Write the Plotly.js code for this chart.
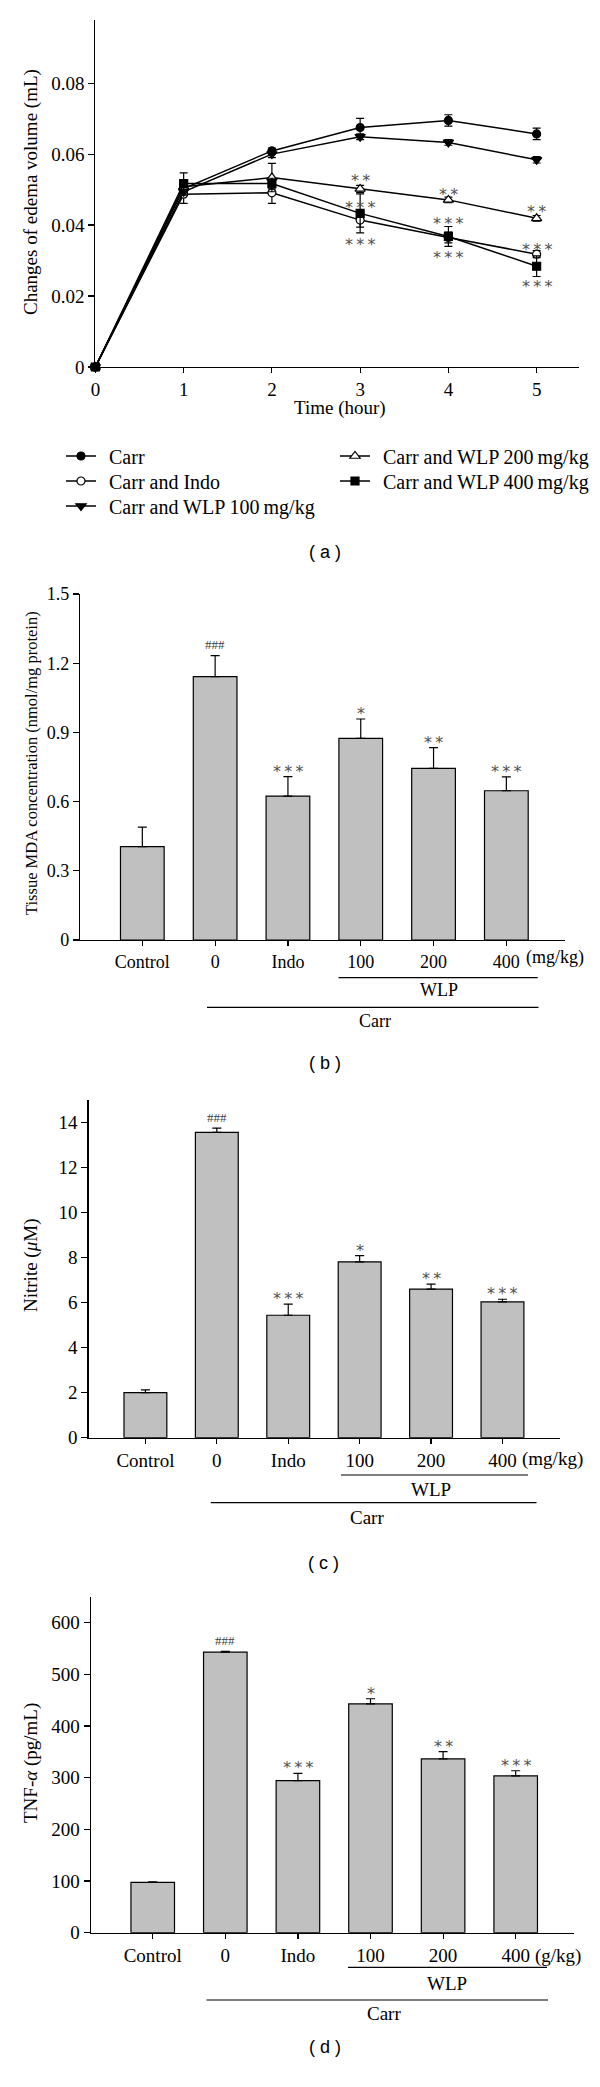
<!DOCTYPE html>
<html><head><meta charset="utf-8">
<script src="https://cdn.plot.ly/plotly-3.0.1.min.js"></script>
<style>body{margin:0;padding:0;background:#fff}#chart{width:600px;height:2087px}</style>
</head><body><div id="chart"></div>
<script>
// ---------- Panel (a): edema volume time course ----------
const hours = [0, 1, 2, 3, 4, 5];
const hourTicks = ['0', '1', '2', '3', '4', '5'];
const carr      = [0, 0.0503, 0.0609, 0.0675, 0.0695, 0.0657];
const carrErr   = [0, 0.0010, 0.0008, 0.0026, 0.0016, 0.0016];
const indo      = [0, 0.0487, 0.0491, 0.0414, 0.0365, 0.0318];
const indoErr   = [0, 0.0026, 0.0030, 0.0020, 0.0015, 0.0010];
const wlp100    = [0, 0.0494, 0.0600, 0.0649, 0.0633, 0.0584];
const wlp100Err = [0, 0.0010, 0.0010, 0.0008, 0.0008, 0.0009];
const wlp200    = [0, 0.0508, 0.0534, 0.0502, 0.0471, 0.0419];
const wlp200Err = [0, 0.0015, 0.0040, 0.0010, 0.0008, 0.0008];
const wlp400    = [0, 0.0517, 0.0517, 0.0433, 0.0368, 0.0284];
const wlp400Err = [0, 0.0030, 0.0015, 0.0055, 0.0028, 0.0029];
const edemaTicks = [0, 0.02, 0.04, 0.06, 0.08];
const edemaTickText = ['0', '0.02', '0.04', '0.06', '0.08'];
const seriesNames = ['Carr', 'Carr and Indo', 'Carr and WLP 100\u2009mg/kg', 'Carr and WLP 200\u2009mg/kg', 'Carr and WLP 400\u2009mg/kg'];

// significance marks in (a): [hour, text, series, pixel offset above point]
const edemaMarks = [
  [3, '*\u2009*', 'wlp200', 12], [3, '*\u2009*\u2009*', 'wlp400', 10], [3, '*\u2009*\u2009*', 'wlp400', -27],
  [4, '*\u2009*', 'wlp200', 9.5], [4, '*\u2009*\u2009*', 'wlp400', 16.5], [4, '*\u2009*\u2009*', 'wlp400', -17.5],
  [5, '*\u2009*', 'wlp200', 11], [5, '*\u2009*\u2009*', 'indo', 8.5], [5, '*\u2009*\u2009*', 'wlp400', -16.5]
];

// ---------- Bar panels ----------
const groups = ['Control', '0', 'Indo', '100', '200', '400'];
const barMarks = ['', '###', '*\u2009*\u2009*', '*', '*\u2009*', '*\u2009*\u2009*'];
const mda = [0.405, 1.142, 0.624, 0.874, 0.744, 0.647];
const mdaErr = [0.084, 0.091, 0.084, 0.084, 0.090, 0.060];
const mdaTicks = [0, 0.3, 0.6, 0.9, 1.2, 1.5];
const mdaTickText = ['0', '0.3', '0.6', '0.9', '1.2', '1.5'];
const nitrite = [2.0, 13.56, 5.44, 7.81, 6.60, 6.03];
const nitriteErr = [0.12, 0.19, 0.49, 0.28, 0.22, 0.12];
const nitriteTicks = [0, 2, 4, 6, 8, 10, 12, 14];
const tnf = [97.5, 542.7, 294.2, 442.6, 336.2, 303.3];
const tnfErr = [1, 1.5, 14, 10, 14, 10];
const tnfTicks = [0, 100, 200, 300, 400, 500, 600];

// ---------- helpers ----------
const W = 600, H = 2087;
const SERIF = 'Liberation Serif, Times New Roman, serif';
const SANS = 'Liberation Sans, Arial, sans-serif';
const STAR = 'DejaVu Sans, sans-serif';
const px = p => p / W;
const py = p => 1 - p / H;

const seriesData = {carr, indo, wlp100, wlp200, wlp400};

function lineTrace(y, err, name, symbol, fill, legendId) {
  return {
    type: 'scatter', mode: 'lines+markers', x: hours, y: y, name: '\u2009\u2009' + name,
    xaxis: 'x', yaxis: 'y', legend: legendId, cliponaxis: false,
    line: {color: '#000', width: 1.5},
    marker: {symbol: symbol, size: symbol.indexOf('triangle') >= 0 ? 9 : 8, color: fill, line: {color: '#000', width: 1.2}},
    error_y: {type: 'data', array: err, visible: true, color: '#000', thickness: 1.2, width: 4}
  };
}

function barTrace(vals, err, ax) {
  return {
    type: 'bar', x: groups, y: vals, xaxis: 'x' + ax, yaxis: 'y' + ax, width: 0.6,
    showlegend: false, cliponaxis: false,
    marker: {color: '#c0c0c0', line: {color: '#000', width: 1.2}},
    error_y: {type: 'data', symmetric: false, array: err, arrayminus: vals.map(() => 0),
              visible: true, color: '#000', thickness: 1.2, width: 4.5}
  };
}

const traces = [
  lineTrace(carr, carrErr, seriesNames[0], 'circle', '#000', 'legend'),
  lineTrace(indo, indoErr, seriesNames[1], 'circle', '#fff', 'legend2'),
  lineTrace(wlp100, wlp100Err, seriesNames[2], 'triangle-down', '#000', 'legend3'),
  lineTrace(wlp200, wlp200Err, seriesNames[3], 'triangle-up', '#fff', 'legend4'),
  lineTrace(wlp400, wlp400Err, seriesNames[4], 'square', '#000', 'legend5'),
  barTrace(mda, mdaErr, 2),
  barTrace(nitrite, nitriteErr, 3),
  barTrace(tnf, tnfErr, 4)
];

function axisBase(fontSize) {
  return {
    showline: true, linecolor: '#000', linewidth: 1.2, ticks: 'outside', ticklen: 6,
    tickwidth: 1.2, tickcolor: '#000', showgrid: false, zeroline: false, fixedrange: true,
    tickfont: {family: SERIF, size: fontSize, color: '#000'}
  };
}

function legendAt(xp, yp) {
  return {orientation: 'v', x: px(xp), y: py(yp), xanchor: 'left', yanchor: 'middle',
          itemwidth: 30, tracegroupgap: 0, bgcolor: 'rgba(0,0,0,0)', borderwidth: 0,
          font: {family: SERIF, size: 20, color: '#000'}};
}

// pixel boxes of the four plot areas: [left, right, top, bottom]
const boxA = [95.4, 579, 20, 367];
const boxB = [80, 564.6, 594, 940];
const boxC = [88.5, 559.6, 1100, 1437.7];
const boxD = [90.8, 574.2, 1596.7, 1932.7];

const layout = {
  width: W, height: H, margin: {l: 0, r: 0, t: 0, b: 0},
  paper_bgcolor: '#fff', plot_bgcolor: 'rgba(0,0,0,0)',
  font: {family: SERIF, color: '#000'},
  showlegend: true,
  legend: legendAt(61, 456),
  legend2: legendAt(61, 481),
  legend3: legendAt(61, 506),
  legend4: legendAt(335, 456),
  legend5: legendAt(335, 481),
  xaxis: Object.assign(axisBase(19), {domain: [px(boxA[0]), px(boxA[1])], anchor: 'y',
           range: [0, 5.48], tickvals: hours, ticktext: hourTicks, ticklen: 5}),
  yaxis: Object.assign(axisBase(19), {domain: [py(boxA[3]), py(boxA[2])], anchor: 'x',
           range: [0, 0.0978], tickvals: edemaTicks, ticktext: edemaTickText}),
  xaxis2: Object.assign(axisBase(18), {domain: [px(boxB[0]), px(boxB[1])], anchor: 'y2',
           type: 'category', categoryarray: groups, range: [-0.856, 5.80], ticklen: 5}),
  yaxis2: Object.assign(axisBase(18), {domain: [py(boxB[3]), py(boxB[2])], anchor: 'x2',
           range: [0, 1.5], tickvals: mdaTicks, ticktext: mdaTickText}),
  xaxis3: Object.assign(axisBase(19), {domain: [px(boxC[0]), px(boxC[1])], anchor: 'y3',
           type: 'category', categoryarray: groups, range: [-0.797, 5.80], ticklen: 5}),
  yaxis3: Object.assign(axisBase(19), {domain: [py(boxC[3]), py(boxC[2])], anchor: 'x3',
           range: [0, 15], tickvals: nitriteTicks}),
  xaxis4: Object.assign(axisBase(19), {domain: [px(boxD[0]), px(boxD[1])], anchor: 'y4',
           type: 'category', categoryarray: groups, range: [-0.853, 5.806], ticklen: 5}),
  yaxis4: Object.assign(axisBase(19), {domain: [py(boxD[3]), py(boxD[2])], anchor: 'x4',
           range: [0, 650], tickvals: tnfTicks}),
  annotations: [],
  shapes: []
};

const ann = layout.annotations;
function textAt(xp, yp, text, size, family, angle) {
  ann.push({xref: 'paper', yref: 'paper', x: px(xp), y: py(yp), text: text, showarrow: false,
            xanchor: 'center', yanchor: 'middle', textangle: angle || 0,
            font: {family: family || SERIF, size: size, color: '#000'}});
}

// axis titles
textAt(31, 192, 'Changes of edema volume (mL)', 19, SERIF, -90);
textAt(340, 408, 'Time (hour)', 19);
textAt(31, 763, 'Tissue MDA concentration (nmol/mg protein)', 16.5, SERIF, -90);
textAt(31, 1266, 'Nitrite (<i>\u03bc</i>M)', 19, SERIF, -90);
textAt(31, 1763, 'TNF-<i>\u03b1</i> (pg/mL)', 19, SERIF, -90);

// panel letters
textAt(325, 552, '( a )', 18, SANS);
textAt(325, 1063, '( b )', 18, SANS);
textAt(323, 1563, '( c )', 18, SANS);
textAt(325, 2047, '( d )', 18, SANS);

// unit labels and group brackets
const groupLabels = [
  {unit: '(mg/kg)', unitX: 555, tickY: 957, wlpY: 977.7, wlp: [338.5, 537.7], wlpText: [438.5, 990],
   carrY: 1007.3, carr: [207, 538.5], carrText: [375, 1021]},
  {unit: '(mg/kg)', unitX: 552, tickY: 1459, wlpY: 1475, wlp: [341, 528], wlpText: [430.8, 1489],
   carrY: 1502.7, carr: [210.8, 536.5], carrText: [367, 1517.7]},
  {unit: '(g/kg)', unitX: 557.7, tickY: 1956, wlpY: 1967.3, wlp: [348, 547], wlpText: [447, 1983.3],
   carrY: 2000, carr: [206.5, 548], carrText: [383.5, 2013]}
];
const sizes = [18, 19, 19];
groupLabels.forEach((g, i) => {
  textAt(g.unitX, g.tickY, g.unit, sizes[i]);
  textAt(g.wlpText[0], g.wlpText[1], 'WLP', sizes[i]);
  textAt(g.carrText[0], g.carrText[1], 'Carr', sizes[i]);
  layout.shapes.push({type: 'line', xref: 'paper', yref: 'paper', x0: px(g.wlp[0]), x1: px(g.wlp[1]),
    y0: py(g.wlpY), y1: py(g.wlpY), line: {color: '#000', width: 1.2}});
  layout.shapes.push({type: 'line', xref: 'paper', yref: 'paper', x0: px(g.carr[0]), x1: px(g.carr[1]),
    y0: py(g.carrY), y1: py(g.carrY), line: {color: '#000', width: 1.2}});
});

// significance marks (a)
edemaMarks.forEach(m => {
  const yv = seriesData[m[2]][m[0]];
  ann.push({xref: 'x', yref: 'y', x: m[0], y: yv, text: m[1], showarrow: false,
            xanchor: 'center', yanchor: 'middle', yshift: m[3] - 4,
            font: {family: STAR, size: 16, color: '#505050'}});
});

// significance marks on bars (x given as category index)
[[mda, mdaErr, 2], [nitrite, nitriteErr, 3], [tnf, tnfErr, 4]].forEach(p => {
  groups.forEach((g, i) => {
    if (!barMarks[i]) return;
    const hash = barMarks[i] === '###';
    ann.push({xref: 'x' + p[2], yref: 'y' + p[2], x: i, y: p[0][i] + p[1][i], text: barMarks[i],
              showarrow: false, xanchor: 'center', yanchor: 'middle', yshift: hash ? 11 : 5.5,
              font: hash ? {family: SERIF, size: 13, color: '#404040'}
                         : {family: STAR, size: 16, color: '#505050'}});
  });
});

Plotly.newPlot('chart', traces, layout, {staticPlot: true, displayModeBar: false});
</script>
</body></html>
